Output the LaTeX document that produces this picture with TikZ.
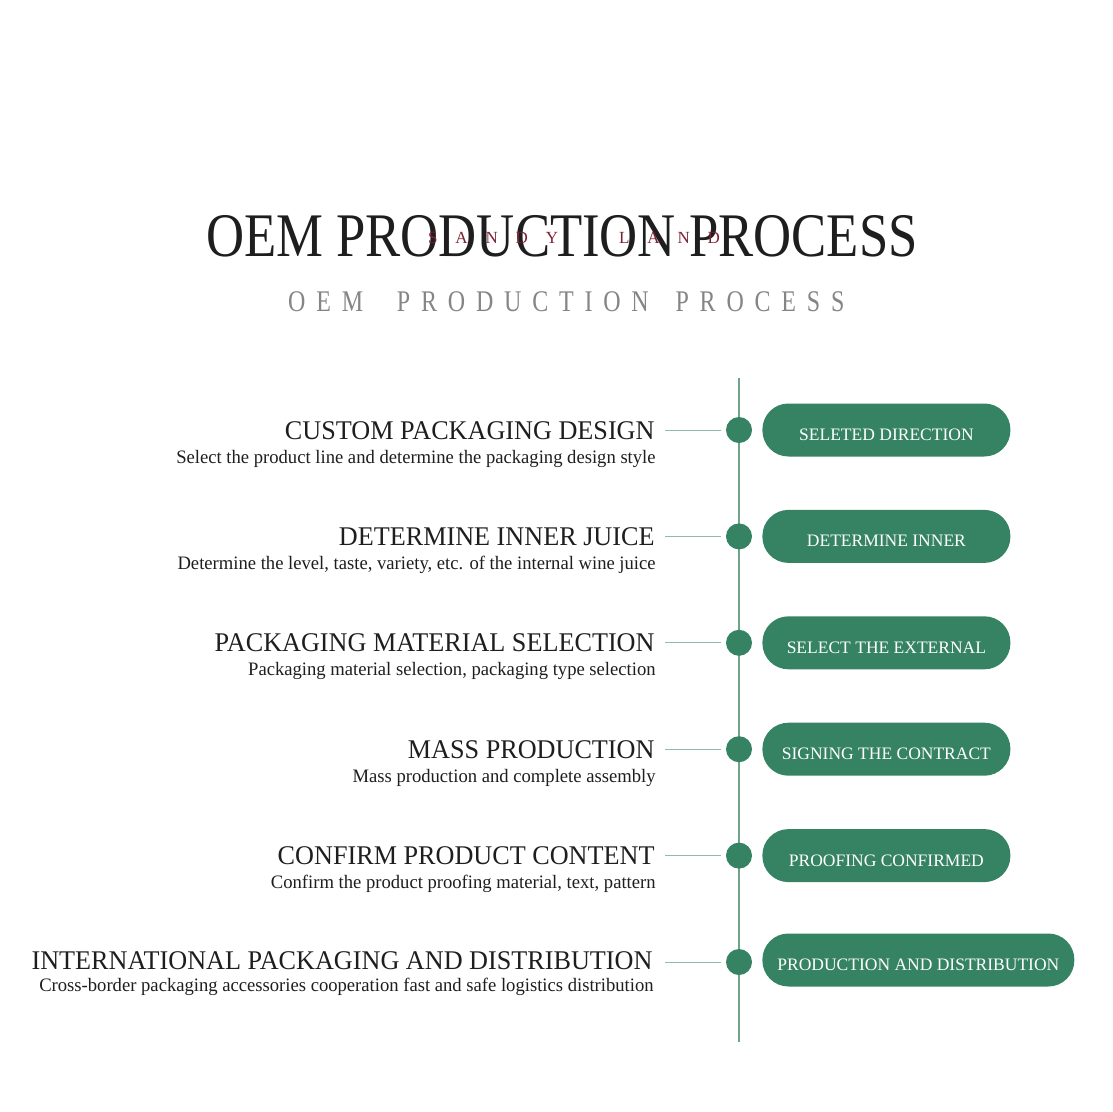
\documentclass[tikz,border=0pt]{standalone}
\usepackage{fontspec}
\usetikzlibrary{positioning,backgrounds}

\setmainfont{Liberation Serif}
\newfontfamily\titlefont[FakeStretch=0.85]{Liberation Serif}
\newfontfamily\subfont[FakeStretch=0.8,LetterSpace=36]{Liberation Serif}
\newfontfamily\brandfont[LetterSpace=105]{Liberation Serif}
\newfontfamily\headfont[FakeStretch=0.97]{Liberation Serif}
\newfontfamily\descfont[FakeStretch=0.98]{Liberation Serif}
\newfontfamily\pillfont{Liberation Serif}

\definecolor{pillgreen}{HTML}{358362}
\definecolor{linegreen}{HTML}{6FA38B}
\definecolor{inkgray}{HTML}{1E1E1E}
\definecolor{subgray}{HTML}{858585}
\definecolor{brandred}{HTML}{7A2233}

\begin{document}
\begin{tikzpicture}[x=1pt,y=-1pt,node distance=80pt,
    dot/.style={circle,fill=pillgreen,minimum size=26pt,inner sep=0pt},
    pill/.style={rectangle,rounded corners=26pt,fill=pillgreen,text=white,
      minimum width=248pt,minimum height=53pt,inner xsep=15pt,
      text height=21pt,text depth=0pt,
      font=\pillfont\fontsize{17.5}{17.5}\selectfont},
    head/.style={anchor=base east,inner sep=0pt,text=inkgray,
      font=\headfont\fontsize{27}{27}\selectfont},
    desc/.style={anchor=base east,inner sep=0pt,text=inkgray,
      font=\descfont\fontsize{19}{19}\selectfont},
    brand/.style={anchor=base west,inner sep=0pt,text=brandred,
      font=\brandfont\fontsize{17}{17}\selectfont},
    tie/.style={draw=linegreen!75,line width=1pt,shorten >=5pt},
    spine/.style={draw=linegreen,line width=1.5pt}]

	\useasboundingbox (0,0) rectangle (1112,1112);

	% title block
	\node[anchor=base,inner sep=0pt,text=inkgray,
	  font=\titlefont\fontsize{62}{62}\selectfont] (title) at (562,256) {OEM PRODUCTION PROCESS};
	\node[brand] (brand1) at (428,243) {SANDY};
	\node[brand] (brand2) at (619,243) {LAND};
	\node[anchor=base west,inner sep=0pt,text=subgray,
	  font=\subfont\fontsize{30}{30}\selectfont] (subtitle) at (288,311)
	  {OEM\hspace{17pt} PRODUCTION\hspace{10pt} PROCESS};

	% timeline dots
	\node[dot] (d1) at (739,430) {};
	\node[dot,below=of d1] (d2) {};
	\node[dot,below=of d2] (d3) {};
	\node[dot,below=of d3] (d4) {};
	\node[dot,below=of d4] (d5) {};
	\node[dot,below=of d5] (d6) {};

	\coordinate[above=39pt of d1] (top);
	\coordinate[below=67pt of d6] (bot);

	% pills
	\node[pill,right=10pt of d1] (p1) {SELETED DIRECTION};
	\node[pill,right=10pt of d2] (p2) {DETERMINE INNER};
	\node[pill,right=10pt of d3] (p3) {SELECT THE EXTERNAL};
	\node[pill,right=10pt of d4] (p4) {SIGNING THE CONTRACT};
	\node[pill,right=10pt of d5] (p5) {PROOFING CONFIRMED};
	\node[pill,right=10pt of d6,yshift=2pt] (p6) {PRODUCTION AND DISTRIBUTION};

	% left ends of the ties
	\coordinate[left=61pt of d1] (c1);
	\coordinate[left=61pt of d2] (c2);
	\coordinate[left=61pt of d3] (c3);
	\coordinate[left=61pt of d4] (c4);
	\coordinate[left=61pt of d5] (c5);
	\coordinate[left=61pt of d6] (c6);

	% headings and descriptions
	\node[head] (h1) at ([xshift=-10pt,yshift=-9pt]c1) {CUSTOM PACKAGING DESIGN};
	\node[desc] (t1) at ([xshift=1pt,yshift=-24pt]h1.base east) {Select the product line and determine the packaging design style};
	\node[head] (h2) at ([xshift=-10pt,yshift=-9pt]c2) {DETERMINE INNER JUICE};
	\node[desc] (t2) at ([xshift=1pt,yshift=-24pt]h2.base east) {Determine the level, taste, variety, etc. of the internal wine juice};
	\node[head] (h3) at ([xshift=-10pt,yshift=-9pt]c3) {PACKAGING MATERIAL SELECTION};
	\node[desc] (t3) at ([xshift=1pt,yshift=-24pt]h3.base east) {Packaging material selection, packaging type selection};
	\node[head] (h4) at ([xshift=-10pt,yshift=-9pt]c4) {MASS PRODUCTION};
	\node[desc] (t4) at ([xshift=1pt,yshift=-24pt]h4.base east) {Mass production and complete assembly};
	\node[head] (h5) at ([xshift=-10pt,yshift=-9pt]c5) {CONFIRM PRODUCT CONTENT};
	\node[desc] (t5) at ([xshift=1pt,yshift=-24pt]h5.base east) {Confirm the product proofing material, text, pattern};
	\node[head] (h6) at ([xshift=-12pt,yshift=-7pt]c6) {INTERNATIONAL PACKAGING AND DISTRIBUTION};
	\node[desc] (t6) at ([xshift=1pt,yshift=-22pt]h6.base east) {Cross-border packaging accessories cooperation fast and safe logistics distribution};

	\begin{scope}[on background layer]
		\draw[spine] (top) -- (bot);
		\draw[tie] (c1) -- (d1);
		\draw[tie] (c2) -- (d2);
		\draw[tie] (c3) -- (d3);
		\draw[tie] (c4) -- (d4);
		\draw[tie] (c5) -- (d5);
		\draw[tie] (c6) -- (d6);
	\end{scope}
\end{tikzpicture}
\end{document}
